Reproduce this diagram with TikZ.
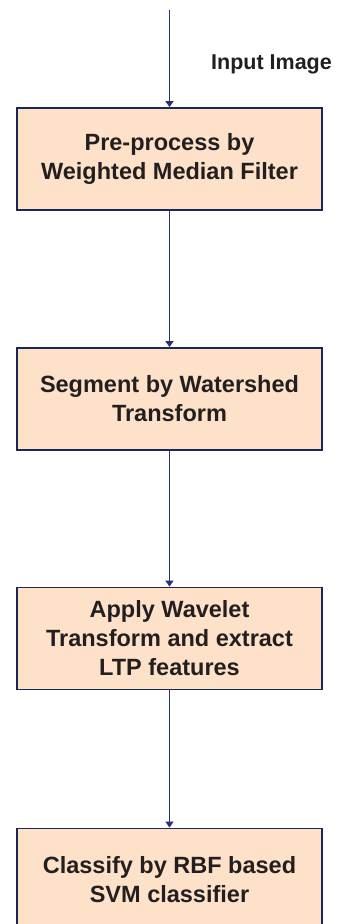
\documentclass[tikz,border=0pt]{standalone}
\usepackage{fontspec}
\setmainfont{Liberation Sans}
\usetikzlibrary{arrows.meta}
\usetikzlibrary{positioning}

\definecolor{boxfill}{RGB}{253,225,200}
\definecolor{boxedge}{RGB}{30,38,84}
\definecolor{flowline}{RGB}{40,52,112}
\definecolor{textgray}{RGB}{35,31,32}

\tikzset{
  stagebox/.style={draw=boxedge, line width=1.8pt, fill=boxfill, rectangle,
    minimum width=305pt, minimum height=102pt, inner sep=0pt, align=center,
    text=textgray, font=\bfseries\fontsize{23.5}{29}\selectfont},
  flow/.style={draw=flowline, line width=1.8pt, -{Triangle[width=8pt,length=6pt]}},
  flowlabel/.style={text=textgray, font=\bfseries\fontsize{21.5}{26}\selectfont, inner sep=0pt}
}

\begin{document}
\begin{tikzpicture}[x=1pt,y=-1pt]
\useasboundingbox (0,0) rectangle (345,924);

%input
\coordinate (input) at (169.5,10);

%stages
\node[stagebox] (prep) at (169.5,159) {Pre-process by\\Weighted Median Filter};
\node[stagebox] (seg) at (169.5,399) {Segment by Watershed\\Transform};
\node[stagebox] (feat) at (169.5,638.5) {Apply Wavelet\\Transform and extract\\LTP features};
\node[stagebox] (svm) at (169.5,879.5) {Classify by RBF based\\SVM classifier};

%arrows
\draw[flow] (input) -- (prep.north);
\node[flowlabel, anchor=west] (inlabel) at (211,64) {Input Image};
\draw[flow] (prep.south) -- (seg.north);
\draw[flow] (seg.south) -- (feat.north);
\draw[flow] (feat.south) -- (svm.north);

\end{tikzpicture}
\end{document}
